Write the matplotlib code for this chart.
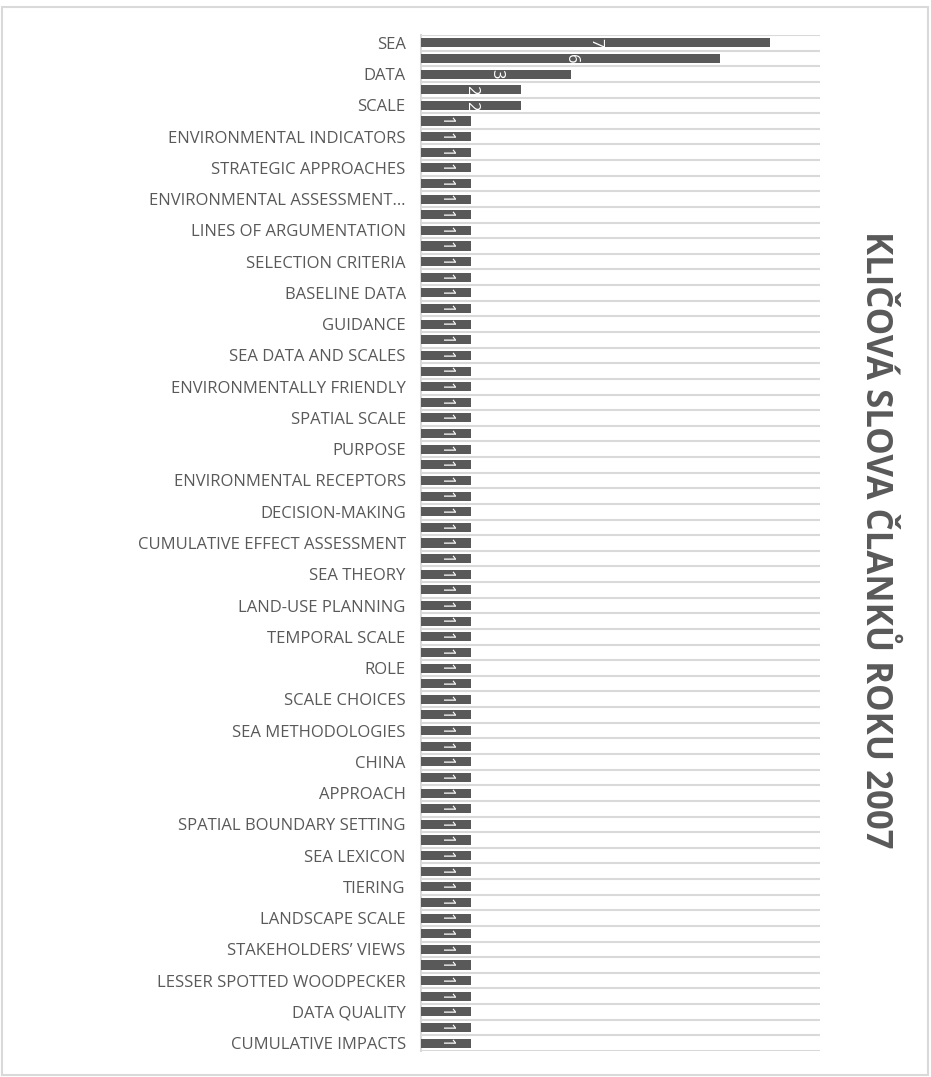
import matplotlib
matplotlib.use("Agg")
import matplotlib.pyplot as plt
from matplotlib.patches import Rectangle

# Visible category labels (every other bar is labelled in the original)
labels = [
    "SEA", "DATA", "SCALE", "ENVIRONMENTAL INDICATORS", "STRATEGIC APPROACHES",
    "ENVIRONMENTAL ASSESSMENT…", "LINES OF ARGUMENTATION", "SELECTION CRITERIA",
    "BASELINE DATA", "GUIDANCE", "SEA DATA AND SCALES", "ENVIRONMENTALLY FRIENDLY",
    "SPATIAL SCALE", "PURPOSE", "ENVIRONMENTAL RECEPTORS", "DECISION-MAKING",
    "CUMULATIVE EFFECT ASSESSMENT", "SEA THEORY", "LAND-USE PLANNING",
    "TEMPORAL SCALE", "ROLE", "SCALE CHOICES", "SEA METHODOLOGIES", "CHINA",
    "APPROACH", "SPATIAL BOUNDARY SETTING", "SEA LEXICON", "TIERING",
    "LANDSCAPE SCALE", "STAKEHOLDERS’ VIEWS", "LESSER SPOTTED WOODPECKER",
    "DATA QUALITY", "CUMULATIVE IMPACTS",
]

# Bar values, top to bottom (65 bars)
values = [7, 6, 3, 2, 2] + [1] * 60

title = "KLIČOVÁ SLOVA ČLANKŮ ROKU 2007"

gray = "#595959"
grid_c = "#d9d9d9"

fig = plt.figure(figsize=(9.31, 10.77), dpi=100)
ax = fig.add_axes([421 / 931, 1 - 1051 / 1077, (820 - 421) / 931, (1051 - 35) / 1077])

n = len(values)
pos = list(range(n))
ax.barh(pos, values, height=0.58, color=gray, zorder=3)
ax.set_ylim(n - 0.5, -0.5)
ax.set_xlim(0, 8)

for i, v in enumerate(values):
    ax.text(v / 2, i, str(v), rotation=-90, ha="center", va="center",
            color="white", fontsize=12, family="Open Sans", zorder=4)

for b in range(n + 1):
    ax.axhline(b - 0.5, color=grid_c, lw=1.5, zorder=1)

ax.set_yticks(pos[::2])
ax.set_yticklabels(labels, fontsize=12, color=gray, family="Open Sans")
ax.tick_params(axis="y", length=0, pad=11)
ax.set_xticks([])
for s in ["top", "right", "bottom"]:
    ax.spines[s].set_visible(False)
ax.spines["left"].set_color(grid_c)
ax.spines["left"].set_linewidth(1.5)

fig.text(875 / 931, 1 - 540 / 1077, title, rotation=-90, ha="center",
         va="center", fontsize=25, fontweight="bold", color=gray, family="Open Sans")

fig.patches.append(Rectangle((2 / 931, 2 / 1077), 926 / 931, 1068 / 1077,
                             transform=fig.transFigure, fill=False,
                             edgecolor=grid_c, lw=1.5))

fig.savefig("out.png", dpi=100)
